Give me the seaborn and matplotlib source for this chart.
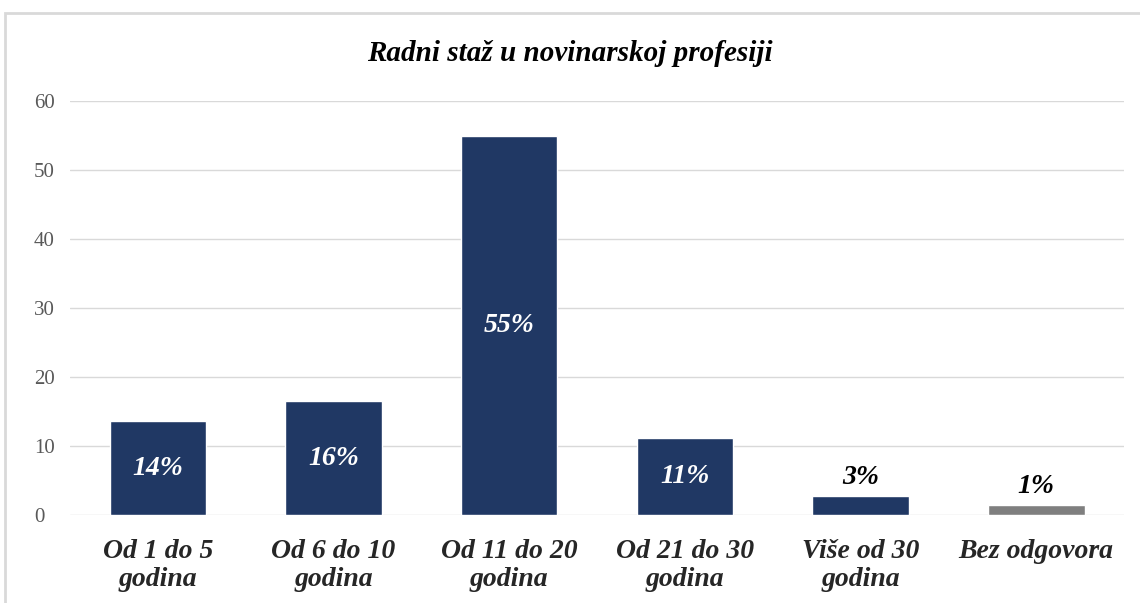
import matplotlib
matplotlib.use("Agg")
import matplotlib.pyplot as plt
import seaborn as sns
import pandas as pd
from matplotlib.patches import Rectangle

categories = ["Od 1 do 5\ngodina", "Od 6 do 10\ngodina", "Od 11 do 20\ngodina",
              "Od 21 do 30\ngodina", "Više od 30\ngodina", "Bez odgovora"]
values = [13.6, 16.5, 54.9, 11.2, 2.75, 1.45]
labels = ["14%", "16%", "55%", "11%", "3%", "1%"]
inside = [True, True, True, True, False, False]
colors = ["#203864", "#203864", "#203864", "#203864", "#203864", "#7f7f7f"]

df = pd.DataFrame({"cat": categories, "val": values})

sns.set_style("white")
plt.rcParams["font.family"] = ["Liberation Serif", "DejaVu Serif"]

fig = plt.figure(figsize=(11.4, 6.03), dpi=100)
ax = fig.add_axes([0.0614, 0.146, 0.9246, 0.6865])

sns.barplot(data=df, x="cat", y="val", hue="cat", palette=colors, legend=False,
            width=0.55, saturation=1, ax=ax, zorder=3)

ax.set_ylim(0, 60)
ax.set_yticks(range(0, 61, 10))
ax.yaxis.grid(True, color="#d9d9d9", linewidth=1, zorder=0)
for s in ax.spines.values():
    s.set_visible(False)
ax.set_xlabel("")
ax.set_ylabel("")
ax.tick_params(axis="y", labelsize=15, labelcolor="#595959", length=0, pad=26)
ax.tick_params(axis="x", length=0, pad=17)
for t in ax.get_yticklabels():
    t.set_horizontalalignment("left")
for t in ax.get_xticklabels():
    t.set_fontsize(20)
    t.set_fontweight("bold")
    t.set_fontstyle("italic")
    t.set_linespacing(1.2)

for i, (v, lab, ins) in enumerate(zip(values, labels, inside)):
    if ins:
        ax.text(i, v / 2, lab, ha="center", va="center", color="white",
                fontsize=20, fontweight="bold", fontstyle="italic", zorder=4)
    else:
        ax.text(i, v + 0.8, lab, ha="center", va="bottom", color="black",
                fontsize=20, fontweight="bold", fontstyle="italic", zorder=4)

fig.text(0.5, 0.912, "Radni staž u novinarskoj profesiji", ha="center", va="center",
         fontsize=21, fontweight="bold", fontstyle="italic", color="black")

fig.add_artist(Rectangle((0.0045, -0.01), 1.0, 0.989, transform=fig.transFigure,
                         fill=False, edgecolor="#d9d9d9", linewidth=2))

fig.savefig("out.png", dpi=100)
